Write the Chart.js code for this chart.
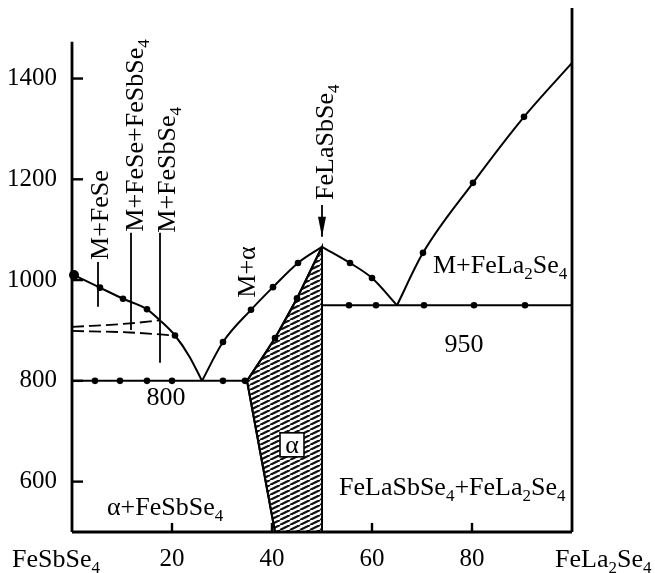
<!DOCTYPE html>
<html>
<head>
<meta charset="utf-8">
<script src="https://cdn.jsdelivr.net/npm/chart.js@4.4.1/dist/chart.umd.min.js"></script>
<style>
  html, body { margin: 0; padding: 0; background: #fff; }
  #wrap { width: 655px; height: 573px; }
</style>
</head>
<body>
<div id="wrap"><canvas id="phase"></canvas></div>
<script>
// x: mol % FeLa2Se4, y: temperature (°C)
const xTicks = [0, 20, 40, 60, 80, 100];
const yTicks = [600, 800, 1000, 1200, 1400];
const xEndNames = ['FeSbSe_4', 'FeLa_2Se_4'];

// liquidus on the FeSbSe4 side, down to the 800 eutectic
const liqLeft = [[0, 1012], [5.6, 985], [10.2, 963], [15, 942], [17.6, 920], [20.6, 890], [23.5, 848], [26, 800]];
const dashUpper = [[0, 907], [11.6, 914], [17.6, 920]];
const dashLower = [[0, 899], [11.6, 896], [20.6, 890]];
// liquidus rising to the FeLaSbSe4 maximum
const liqMid = [[26, 800], [30.2, 877], [35.8, 941], [40.2, 986], [45.2, 1034], [50, 1066]];
// alpha solid solution boundary
const alphaTop = [[35, 800], [40.6, 885], [45, 964], [48, 1025], [50, 1066]];
const alphaLow = [[35, 800], [40.6, 500]];
const alphaRegion = [[35, 800], [40.6, 885], [45, 964], [48, 1025], [50, 1066], [50, 500], [40.6, 500], [35, 800]];
// FeLa2Se4 side
const liqRightDown = [[50, 1066], [55.6, 1034], [60, 1004], [65, 950]];
const liqRightUp = [[65, 950], [70.2, 1054], [80.2, 1193], [90.4, 1324], [100, 1431]];
const eut800 = [[0, 800], [35, 800]];
const eut950 = [[50, 950], [100, 950]];
// measured points
const liqDots = [[0.4, 1010], [5.6, 985], [10.2, 963], [15, 942], [20.6, 890],
  [30.2, 877], [35.8, 941], [40.2, 986], [45.2, 1034], [40.6, 885], [45, 964],
  [55.6, 1034], [60, 1004], [70.2, 1054], [80.2, 1193], [90.4, 1324]];
const eut800Dots = [4.6, 9.6, 15, 20, 30.2, 34.6];
const eut950Dots = [55.4, 60.8, 70.4, 80.4, 90.6];
// label leader lines [x, yTop, yBottom]
const leaders = [[5.2, 1036, 947], [11.8, 1094, 901], [17.6, 1094, 836]];
const arrow = [[50, 1149], [50, 1086]];
// axis frame
const leftAxisTop = 1473;
const rightAxisTop = 1540;

const notes = [
  { text: 'M+FeSe', x: 7.2, y: 1040, rot: true },
  { text: 'M+FeSe+FeSbSe_4', x: 14.2, y: 1096, rot: true },
  { text: 'M+FeSbSe_4', x: 20.6, y: 1094, rot: true },
  { text: 'FeLaSbSe_4', x: 52.2, y: 1159, rot: true },
  { text: 'M+α', x: 36.6, y: 965, rot: true },
  { text: 'M+FeLa_2Se_4', x: 72.2, y: 1014 },
  { text: '950', x: 78.4, y: 857, align: 'center' },
  { text: '800', x: 18.8, y: 752, align: 'center' },
  { text: 'α+FeSbSe_4', x: 7, y: 534 },
  { text: 'FeLaSbSe_4+FeLa_2Se_4', x: 53.4, y: 573 },
  { text: xEndNames[0], x: -12, y: 430 },
  { text: xEndNames[1], x: 96.6, y: 430 }
];
const alphaBox = { x: 44, y: 673 };

const FONT = '"Liberation Serif", "Times New Roman", serif';
const pts = arr => arr.map(p => ({ x: p[0], y: p[1] }));

function hatch() {
  const c = document.createElement('canvas');
  c.width = 10; c.height = 5;
  const g = c.getContext('2d');
  g.strokeStyle = '#111';
  g.lineWidth = 2.2;
  for (const dx of [-10, 0, 10]) {
    g.beginPath(); g.moveTo(dx, 5); g.lineTo(dx + 10, 0); g.stroke();
  }
  return g.createPattern(c, 'repeat');
}

function line(data, extra) {
  return Object.assign({
    data: pts(data), borderColor: '#000', borderWidth: 2, pointRadius: 0,
    fill: false, tension: 0, clip: false
  }, extra || {});
}
function dots(data, radius) {
  return {
    data: pts(data), showLine: false, pointRadius: radius || 3.3, pointBackgroundColor: '#000',
    pointBorderWidth: 0, clip: false
  };
}

// "_" marks the next char as subscript
function richText(ctx, str, x, y, size, align) {
  const parts = [];
  for (let i = 0; i < str.length; i++) {
    if (str[i] === '_') { parts.push({ t: str[i + 1], sub: true }); i++; }
    else if (parts.length && !parts[parts.length - 1].sub) parts[parts.length - 1].t += str[i];
    else parts.push({ t: str[i], sub: false });
  }
  const subSize = Math.round(size * 0.66);
  let w = 0;
  parts.forEach(p => {
    ctx.font = (p.sub ? subSize : size) + 'px ' + FONT;
    p.w = ctx.measureText(p.t).width;
    w += p.w;
  });
  let cx = align === 'center' ? x - w / 2 : align === 'right' ? x - w : x;
  ctx.textAlign = 'left';
  ctx.textBaseline = 'alphabetic';
  parts.forEach(p => {
    ctx.font = (p.sub ? subSize : size) + 'px ' + FONT;
    ctx.fillText(p.t, cx, p.sub ? y + size * 0.22 : y);
    cx += p.w;
  });
}

const notesPlugin = {
  id: 'notes',
  afterDatasetsDraw(chart) {
    const ctx = chart.ctx, xs = chart.scales.x, ys = chart.scales.y;
    ctx.save();
    ctx.fillStyle = '#000';
    notes.forEach(n => {
      const px = xs.getPixelForValue(n.x), py = ys.getPixelForValue(n.y);
      if (n.rot) {
        ctx.save();
        ctx.translate(px, py);
        ctx.rotate(-Math.PI / 2);
        richText(ctx, n.text, 0, 0, 26, 'left');
        ctx.restore();
      } else {
        richText(ctx, n.text, px, py, 26, n.align || 'left');
      }
    });
    // arrow head
    const ax = xs.getPixelForValue(arrow[1][0]), ay = ys.getPixelForValue(arrow[1][1]);
    ctx.beginPath();
    ctx.moveTo(ax, ay); ctx.lineTo(ax - 4, ay - 20); ctx.lineTo(ax + 4, ay - 20); ctx.closePath();
    ctx.fill();
    // boxed alpha
    const bx = xs.getPixelForValue(alphaBox.x), by = ys.getPixelForValue(alphaBox.y);
    ctx.fillStyle = '#fff';
    ctx.fillRect(bx - 12, by - 12, 24, 24);
    ctx.strokeStyle = '#000'; ctx.lineWidth = 1.6;
    ctx.strokeRect(bx - 12, by - 12, 24, 24);
    ctx.fillStyle = '#000';
    ctx.font = '26px ' + FONT;
    ctx.textAlign = 'center'; ctx.textBaseline = 'middle';
    ctx.fillText('α', bx, by + 1);
    ctx.restore();
  }
};

const datasets = [
  line([[0, 500], [0, leftAxisTop]], { borderWidth: 2.8 }),
  line([[100, 500], [100, rightAxisTop]], { borderWidth: 2.8 }),
  line([[0, 500], [100, 500]], { borderWidth: 2.8 }),
  // inward tick marks
  ...yTicks.map(v => line([[0, v], [2.2, v]], { borderWidth: 2.4 })),
  ...xTicks.slice(1, -1).map(v => line([[v, 500], [v, 518]], { borderWidth: 2.4 })),
  line(liqLeft, { cubicInterpolationMode: 'monotone' }),
  line(dashUpper, { borderDash: [12, 5], borderWidth: 1.8, cubicInterpolationMode: 'monotone' }),
  line(dashLower, { borderDash: [12, 5], borderWidth: 1.8, cubicInterpolationMode: 'monotone' }),
  line(liqMid, { cubicInterpolationMode: 'monotone' }),
  line(alphaTop, { cubicInterpolationMode: 'monotone' }),
  line(alphaLow),
  line(liqRightDown, { cubicInterpolationMode: 'monotone' }),
  line(liqRightUp, { cubicInterpolationMode: 'monotone' }),
  line(eut800),
  line(eut950),
  ...leaders.map(l => line([[l[0], l[1]], [l[0], l[2]]], { borderWidth: 1.8 })),
  line(arrow, { borderWidth: 1.8 }),
  dots(liqDots.slice(0, 1), 5),
  dots(liqDots.slice(1)),
  dots(eut800Dots.map(v => [v, 800])),
  dots(eut950Dots.map(v => [v, 950])),
  line(alphaRegion, { borderWidth: 2, fill: 'shape', backgroundColor: hatch() })
];

new Chart(document.getElementById('phase'), {
  type: 'line',
  data: { datasets: datasets },
  plugins: [notesPlugin],
  options: {
    responsive: true,
    maintainAspectRatio: false,
    animation: false,
    layout: { padding: { left: 0, right: 83, top: 8, bottom: 0 } },
    plugins: { legend: { display: false }, tooltip: { enabled: false } },
    scales: {
      x: {
        type: 'linear', min: 0, max: 100,
        border: { display: false },
        grid: { display: false },
        afterBuildTicks: s => { s.ticks = xTicks.map(v => ({ value: v })); },
        afterFit: s => { s.height = 41; s.paddingLeft = 0; s.paddingRight = 0; },
        ticks: {
          padding: 7,
          color: '#000',
          font: { family: FONT, size: 25, lineHeight: 1 },
          maxRotation: 0,
          callback: v => (v === 0 || v === 100) ? '' : String(v)
        }
      },
      y: {
        type: 'linear', min: 500, max: 1540,
        border: { display: false },
        grid: { display: false },
        afterBuildTicks: s => { s.ticks = yTicks.map(v => ({ value: v })); },
        afterFit: s => { s.width = 72; s.paddingTop = 0; s.paddingBottom = 0; },
        ticks: {
          padding: 7,
          color: '#000',
          font: { family: FONT, size: 25, lineHeight: 1 },
          callback: v => String(v)
        }
      }
    }
  }
});
</script>
</body>
</html>
